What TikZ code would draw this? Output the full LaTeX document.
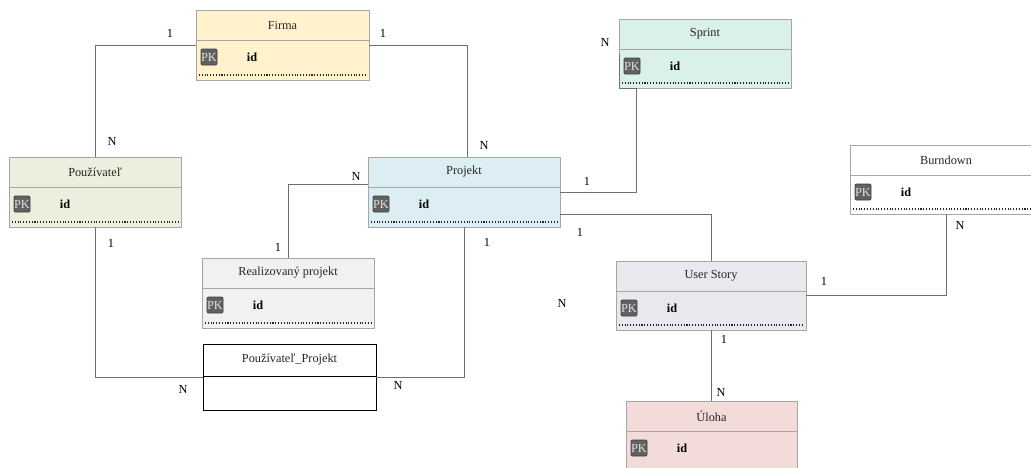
\documentclass[tikz,border=0pt]{standalone}
\usepackage{fontspec}
\setmainfont{Liberation Serif}
\usetikzlibrary{positioning}

\definecolor{firmaC}{HTML}{FFF2CC}
\definecolor{sprintC}{HTML}{DAF1EA}
\definecolor{pouzC}{HTML}{EAF0DD}
\definecolor{projektC}{HTML}{DCEDF3}
\definecolor{realC}{HTML}{F1F1F1}
\definecolor{usC}{HTML}{EAE7EF}
\definecolor{ulohaC}{HTML}{F2DBD9}
\definecolor{borderC}{HTML}{A6A6A6}
\definecolor{relC}{HTML}{6E6E6E}

% one pixel of the reference
\newcommand{\erpx}{0.02cm}

% entity: name, left/top, width, height, colour, title
\newcommand{\erentity}[6]{%
  \node[entity, fill=#5, minimum width=#3*\erpx, minimum height=#4*\erpx] (#1) at (#2) {};
  \draw[borderC] ([yshift=-30*\erpx]#1.north west) -- ([yshift=-30*\erpx]#1.north east);
  \node[title] (#1-title) at ([yshift=-15*\erpx]#1.north) {#6};
  \node[pk] (#1-pk) at ([xshift=13*\erpx, yshift=-47*\erpx]#1.north west) {PK};
  \node[field] (#1-id) at ([xshift=56*\erpx, yshift=-47*\erpx]#1.north west) {id};
  \draw[keyline] ([xshift=3*\erpx, yshift=5*\erpx]#1.south west) -- ([xshift=-3*\erpx, yshift=5*\erpx]#1.south east);
}

\begin{document}
\begin{tikzpicture}[
  x=0.02cm, y=-0.02cm,
  entity/.style={draw=borderC, rectangle, anchor=north west, inner sep=0pt, outer sep=0pt, line width=0.5pt},
  title/.style={font=\fontsize{7}{8}\selectfont, text=black!85},
  field/.style={font=\fontsize{7}{8}\selectfont\bfseries},
  pk/.style={draw=black!75, fill=black!62, rounded corners=0.6pt, text=white!88!black, inner sep=0pt, minimum size=16*\erpx, font=\fontsize{7}{7}\selectfont},
  keyline/.style={black!85, densely dotted, line width=0.6pt},
  rel/.style={draw=relC, line width=0.55pt},
  card/.style={font=\fontsize{7}{8}\selectfont}
  ]
  \useasboundingbox[fill=white] (0,0) rectangle (1031,467);

  % Entities
  \erentity{firma}{196,10}{173}{70}{firmaC}{Firma}
  \erentity{sprint}{619,19}{172}{69}{sprintC}{Sprint}
  \erentity{pouz}{9,157}{172}{70}{pouzC}{Používateľ}
  \erentity{projekt}{368,157}{192}{70}{projektC}{Projekt}
  \erentity{burn}{850,145}{192}{69}{white}{Burndown}
  \erentity{real}{202,258}{172}{70}{realC}{Realizovaný projekt}
  \erentity{us}{616,261}{190}{69}{usC}{User Story}
  \erentity{uloha}{626,401}{171}{75}{ulohaC}{Úloha}

  % Join table
  \node[entity, draw=black, fill=white, minimum width=173*\erpx, minimum height=66*\erpx] (pp) at (203,344) {};
  \draw ([yshift=-32*\erpx]pp.north west) -- ([yshift=-32*\erpx]pp.north east);
  \node[title] (pp-title) at ([yshift=-16*\erpx]pp.north) {Používateľ\_Projekt};

  % Relationships
  \coordinate (sprint-corner) at ([xshift=17*\erpx]sprint.south west);
  \draw[rel] (firma.west) -| (pouz.north);
  \draw[rel] (firma.east) -| ([xshift=3*\erpx]projekt.north);
  \draw[rel] (projekt.east) -| (sprint-corner) -- (sprint.south west) -- (sprint.west);
  \draw[rel] ([yshift=8*\erpx]projekt.west) -| (real.north);
  \draw[rel] ([yshift=-22*\erpx]projekt.east) -| (us.north);
  \draw[rel] (us.east) -| (burn.south);
  \draw[rel] (us.south) -- (us.south |- uloha.north);
  \draw[rel] (pouz.south) |- (pp.west);
  \draw[rel] (projekt.south) |- (pp.east);

  % Cardinalities
  \node[card] (c-firma-l) at (170,33) {1};
  \node[card] (c-pouz-t) at (112,141) {N};
  \node[card] (c-firma-r) at (383,33) {1};
  \node[card] (c-projekt-t) at (484,145) {N};
  \node[card] (c-sprint) at (605,42) {N};
  \node[card] (c-projekt-s) at (587,181) {1};
  \node[card] (c-projekt-w) at (356,176) {N};
  \node[card] (c-real) at (278,247) {1};
  \node[card] (c-projekt-us) at (580,232) {1};
  \node[card] (c-free) at (562,303) {N};
  \node[card] (c-us-e) at (824,281) {1};
  \node[card] (c-burn) at (960,225) {N};
  \node[card] (c-us-s) at (724,339) {1};
  \node[card] (c-uloha) at (721,392) {N};
  \node[card] (c-pouz-b) at (111,243) {1};
  \node[card] (c-pp-w) at (183,389) {N};
  \node[card] (c-projekt-b) at (487,242) {1};
  \node[card] (c-pp-e) at (398,385) {N};
\end{tikzpicture}
\end{document}
